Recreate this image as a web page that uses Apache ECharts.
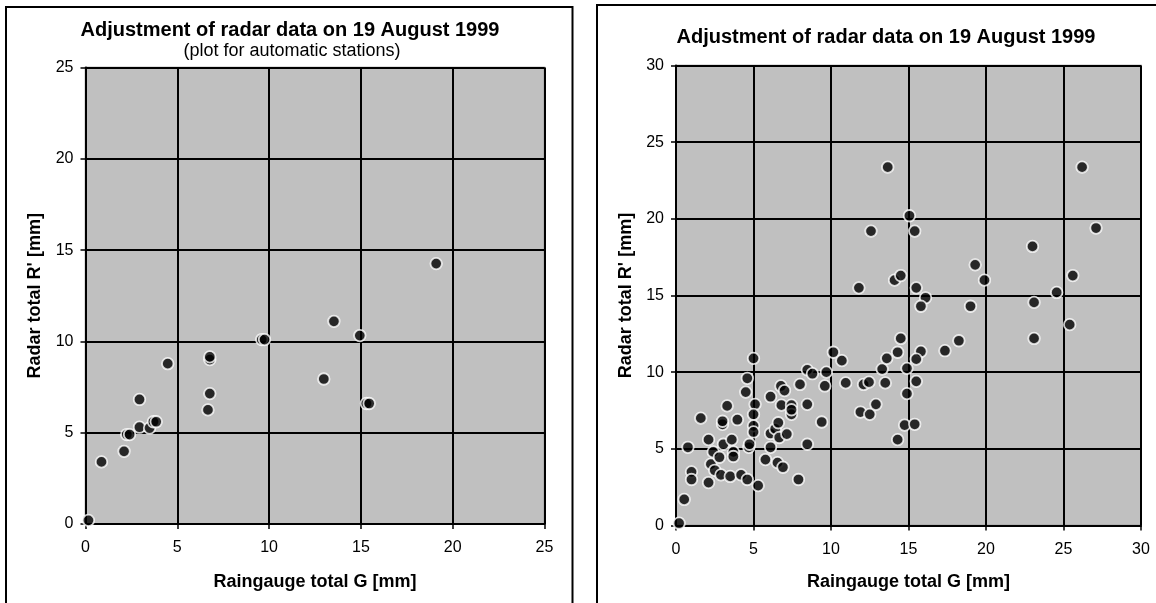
<!DOCTYPE html>
<html>
<head>
<meta charset="utf-8">
<script src="https://cdn.jsdelivr.net/npm/echarts@6/dist/echarts.min.js"></script>
<style>
html,body{margin:0;padding:0;background:#fff;}
#c{width:1156px;height:603px;}
</style>
</head>
<body>
<div id="c"></div>
<script>
// ---- Data ----
const titleText = 'Adjustment of radar data on 19 August 1999';
const leftSubtitle = '(plot for automatic stations)';
const xName = 'Raingauge total G [mm]';
const yName = "Radar total R' [mm]";

const leftTicks = [0, 5, 10, 15, 20, 25];
const rightTicks = [0, 5, 10, 15, 20, 25, 30];

// Left chart: automatic stations
const leftG = [0.16, 0.87, 2.1, 2.25, 2.4, 2.94, 2.94, 3.49, 3.7, 3.85, 4.48, 6.67, 6.77, 6.77, 6.77, 9.6, 9.75, 12.98, 13.53, 14.94, 15.3, 15.45, 19.1];
const leftR = [0.2, 3.4, 3.98, 4.9, 4.9, 5.3, 6.82, 5.26, 5.6, 5.6, 8.78, 6.25, 7.14, 9.0, 9.15, 10.1, 10.1, 7.94, 11.1, 10.32, 6.6, 6.6, 14.26];

// Right chart: all stations
const rightG = [0.2, 0.53, 0.77, 1.0, 1.0, 1.6, 2.1, 2.1, 2.25, 2.4, 2.5, 2.8, 2.9, 3.0, 3.0, 3.06, 3.3, 3.5, 3.6, 3.7, 3.7, 3.96, 4.2, 4.6, 4.6, 4.5, 4.7, 4.74,
  5.0, 5.1, 5.0, 5.0, 5.0, 5.3, 5.77, 6.1, 6.1, 6.1, 6.4, 6.55, 6.6, 6.77, 6.8, 6.66, 6.9, 7.0, 7.15, 7.45, 7.45, 7.45, 7.9, 8.0, 8.47, 8.47, 8.47, 8.8,
  9.4, 9.6, 9.7, 10.15, 10.7, 10.95, 11.9, 12.1, 12.45, 12.5, 12.9, 13.3, 13.5, 13.6, 14.3, 14.3, 14.5, 14.9, 14.9, 14.75,
  13.66, 12.58, 15.06, 15.4, 11.8, 14.1, 14.5, 15.5, 16.1, 15.8, 15.8, 15.5, 15.5, 15.4, 17.35, 18.25, 19.0, 19.3, 19.9,
  23.0, 23.1, 23.1, 24.56, 25.6, 25.4, 26.2, 27.1];
const rightR = [0.15, 1.7, 5.1, 3.5, 3.0, 7.0, 2.8, 5.6, 4.0, 4.8, 3.6, 4.45, 3.3, 6.6, 6.8, 5.3, 7.8, 3.2, 5.6, 4.8, 4.5, 6.9, 3.3, 3.0, 9.6, 8.7, 5.1, 5.3,
  10.9, 7.9, 7.25, 6.5, 6.1, 2.6, 4.3, 8.4, 6.0, 5.1, 6.3, 4.1, 6.7, 9.1, 7.85, 5.74, 3.8, 8.8, 5.96, 7.85, 7.25, 7.55, 3.0, 9.2, 10.15, 7.9, 5.3, 9.9,
  6.75, 9.1, 10.0, 11.3, 10.75, 9.3, 7.4, 9.2, 9.35, 7.25, 7.9, 10.2, 9.3, 10.9, 11.3, 5.6, 12.2, 10.25, 8.6, 6.55,
  23.37, 19.2, 20.2, 19.2, 15.5, 16.0, 16.3, 15.5, 14.85, 14.3, 11.35, 10.85, 9.4, 6.6, 11.4, 12.05, 14.3, 17.0, 16.0,
  18.2, 14.55, 12.2, 15.2, 16.3, 13.1, 23.37, 19.4];

function zip(a, b) { return a.map((v, i) => [v, b[i]]); }

const FONT = '"Liberation Sans", Arial, sans-serif';

function makeX(idx, ticks, gap) {
  return {
    type: 'value', gridIndex: idx,
    min: ticks[0], max: ticks[ticks.length - 1], interval: ticks[1] - ticks[0],
    name: xName, nameLocation: 'middle', nameGap: gap,
    nameTextStyle: { fontFamily: FONT, fontSize: 18, fontWeight: 'bold', color: '#000' },
    axisLine: { show: true, onZero: false, lineStyle: { color: '#000', width: 2 } },
    axisTick: { show: true, length: 5, lineStyle: { color: '#000', width: 1.5 } },
    axisLabel: { fontFamily: FONT, fontSize: 16, color: '#000', margin: 16 },
    splitLine: { show: true, lineStyle: { color: '#000', width: 2 } }
  };
}
function makeY(idx, ticks, gap) {
  return {
    type: 'value', gridIndex: idx,
    min: ticks[0], max: ticks[ticks.length - 1], interval: ticks[1] - ticks[0],
    name: yName, nameLocation: 'middle', nameGap: gap, nameRotate: 90,
    nameTextStyle: { fontFamily: FONT, fontSize: 18, fontWeight: 'bold', color: '#000' },
    axisLine: { show: true, onZero: false, lineStyle: { color: '#000', width: 2 } },
    axisTick: { show: true, length: 5, lineStyle: { color: '#000', width: 1.5 } },
    axisLabel: { fontFamily: FONT, fontSize: 16, color: '#000', margin: 12 },
    splitLine: { show: true, lineStyle: { color: '#000', width: 2 } }
  };
}

const markerStyle = { color: '#000', borderColor: '#fff', borderWidth: 1.8 };

const chart = echarts.init(document.getElementById('c'), null, { renderer: 'canvas' });
chart.setOption({
  backgroundColor: '#fff',
  animation: false,
  title: [
    { text: titleText, left: 285, top: 15, textAlign: 'center',
      textStyle: { fontFamily: FONT, fontSize: 20, fontWeight: 'bold', color: '#000' } },
    { text: leftSubtitle, left: 287, top: 37, textAlign: 'center',
      textStyle: { fontFamily: FONT, fontSize: 18, fontWeight: 'normal', color: '#000' } },
    { text: titleText, left: 881, top: 22, textAlign: 'center',
      textStyle: { fontFamily: FONT, fontSize: 20, fontWeight: 'bold', color: '#000' } }
  ],
  grid: [
    { left: 85.5, top: 67.5, width: 459, height: 456.5, show: true, backgroundColor: '#c0c0c0', borderColor: '#808080', borderWidth: 1.5 },
    { left: 676, top: 65.5, width: 465, height: 460, show: true, backgroundColor: '#c0c0c0', borderColor: '#808080', borderWidth: 1.5 }
  ],
  xAxis: [makeX(0, leftTicks, 49), makeX(1, rightTicks, 48)],
  yAxis: [makeY(0, leftTicks, 41.5), makeY(1, rightTicks, 41)],
  graphic: [
    { type: 'rect', shape: { x: 6, y: 7, width: 566.5, height: 640 }, style: { fill: 'none', stroke: '#000', lineWidth: 2 }, silent: true },
    { type: 'rect', shape: { x: 597, y: 5, width: 620, height: 640 }, style: { fill: 'none', stroke: '#000', lineWidth: 2 }, silent: true }
  ],
  series: [
    { type: 'scatter', xAxisIndex: 0, yAxisIndex: 0, data: zip(leftG, leftR), symbol: 'circle', symbolSize: 11.5, itemStyle: markerStyle },
    { type: 'scatter', xAxisIndex: 1, yAxisIndex: 1, data: zip(rightG, rightR), symbol: 'circle', symbolSize: 11.5, itemStyle: markerStyle }
  ]
});
</script>
</body>
</html>
